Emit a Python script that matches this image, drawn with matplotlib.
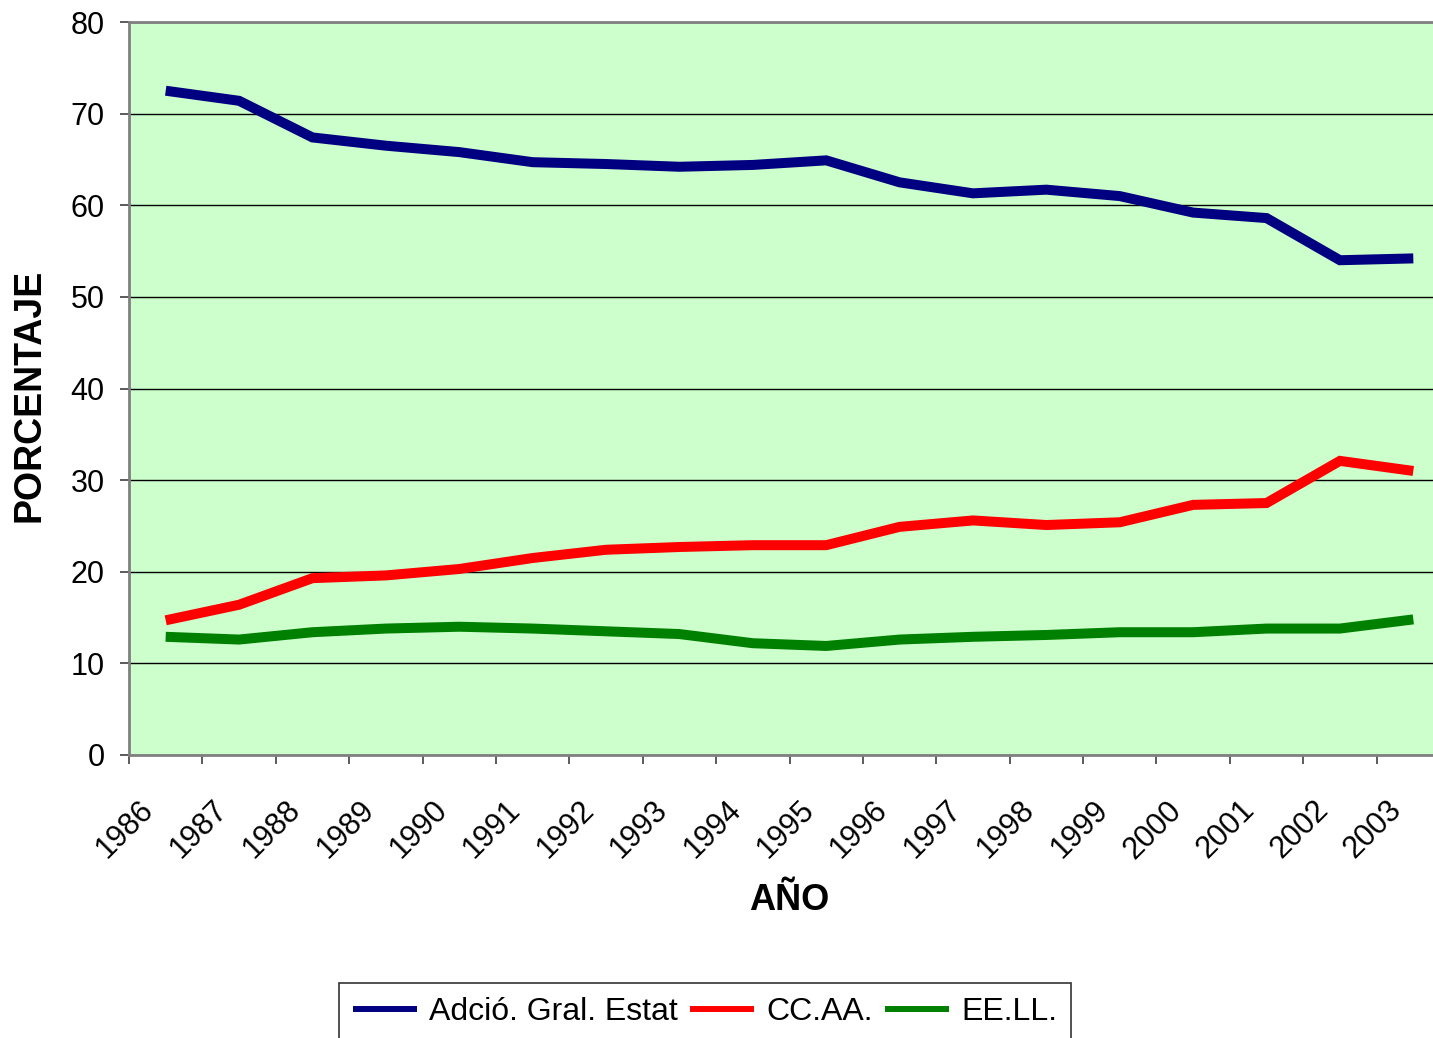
import numpy as np
import matplotlib
matplotlib.use("Agg")
import matplotlib.pyplot as plt
from matplotlib.transforms import ScaledTranslation

plt.rcParams['font.family'] = ['Liberation Sans', 'DejaVu Sans']

years = [str(y) for y in range(1986, 2004)]
estat = [72.5, 71.4, 67.4, 66.5, 65.8, 64.7, 64.5, 64.2, 64.4, 64.9,
         62.5, 61.3, 61.7, 61.0, 59.2, 58.6, 54.0, 54.2]
ccaa = [14.7, 16.4, 19.3, 19.6, 20.3, 21.5, 22.4, 22.7, 22.9, 22.9,
        24.9, 25.6, 25.1, 25.4, 27.3, 27.5, 32.1, 31.0]
eell = [12.9, 12.6, 13.4, 13.8, 14.0, 13.8, 13.5, 13.2, 12.2, 11.9,
        12.6, 12.9, 13.1, 13.4, 13.4, 13.8, 13.8, 14.8]
series_names = ["Adció. Gral. Estat", "CC.AA.", "EE.LL."]
colors = ["#000080", "#FF0000", "#008000"]

W, H = 1433, 1038
fig = plt.figure(figsize=(W / 100, H / 100), dpi=100)
# plot area in pixels: left 129, top 22, bottom 755, 18 categories of ~73.4 px
ax = fig.add_axes([129 / W, 1 - 755 / H, 1321 / W, 733 / H])
ax.set_facecolor("#CCFFCC")

x = np.arange(len(years))
for vals, name, c in zip([estat, ccaa, eell], series_names, colors):
    ax.plot(x, vals, color=c, lw=7.2, label=name, solid_capstyle="butt",
            solid_joinstyle="miter", zorder=3)

ax.set_xlim(-0.5, len(years) - 0.5)
ax.set_ylim(0, 80)
ax.set_yticks(np.arange(0, 81, 10))
ax.yaxis.grid(True, color="black", lw=1)
ax.set_axisbelow(True)

for s in ["left", "bottom", "top", "right"]:
    ax.spines[s].set_color("#808080")
    ax.spines[s].set_linewidth(2)

ax.tick_params(axis="y", direction="out", length=6.5, width=1.2,
               color="#404040", labelsize=22, pad=11)
ax.set_xticks(np.arange(-0.5, len(years), 1.0))
ax.set_xticklabels([])
ax.tick_params(axis="x", direction="out", length=6.5, width=1.2,
               color="#404040")

# rotated category labels at category centers
off = ScaledTranslation(-27 / 100, -40 / 100, fig.dpi_scale_trans)
for xi, lab in zip(x, years):
    ax.text(xi, 0, lab, transform=ax.get_xaxis_transform() + off,
            rotation=45, ha="right", va="top", rotation_mode="anchor",
            fontsize=22)

ax.set_ylabel("PORCENTAJE", fontsize=27, fontweight="bold")
ax.yaxis.set_label_coords(-0.062, 0.49)
ax.set_xlabel("AÑO", fontsize=26, fontweight="bold", va="center")
ax.xaxis.set_label_coords(0.5, -0.198)

leg = fig.legend(loc="upper center", bbox_to_anchor=(705 / W, 1 - 983 / H),
                 ncol=3, fontsize=23, frameon=True, fancybox=False,
                 edgecolor="black", handlelength=2.0, handletextpad=0.37,
                 columnspacing=0.4, borderpad=0.44, borderaxespad=0)
leg.get_frame().set_linewidth(1.2)
for h in leg.get_lines():
    h.set_linewidth(4.3)

fig.savefig("out.png", dpi=100)
